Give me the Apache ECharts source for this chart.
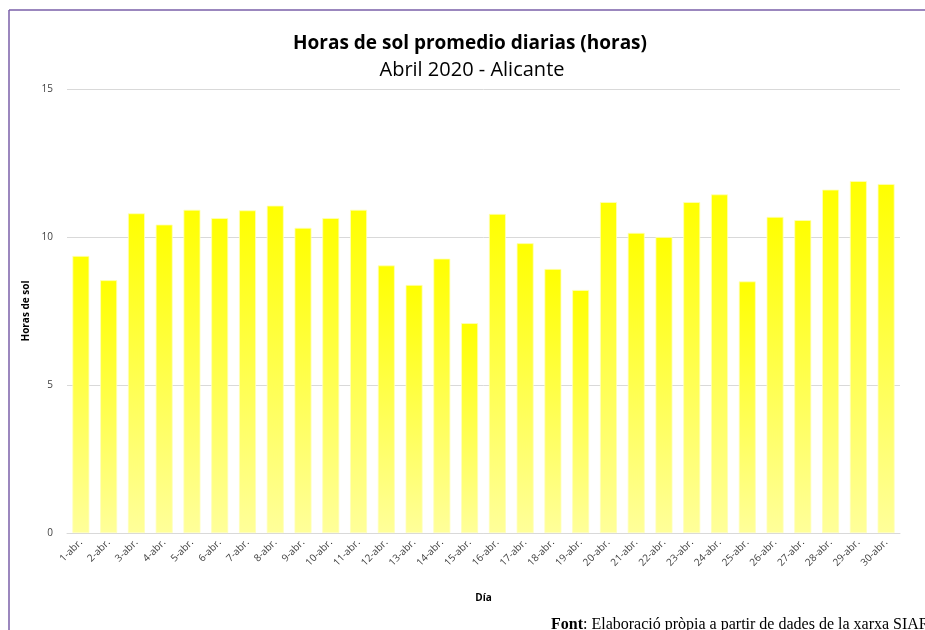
<!DOCTYPE html>
<html>
<head>
<meta charset="utf-8">
<script src="https://cdn.jsdelivr.net/npm/echarts@6/dist/echarts.min.js"></script>
<style>
html,body{margin:0;padding:0;background:#fff;}
#main{width:925px;height:630px;}
</style>
</head>
<body>
<div id="main"></div>
<script>
var dias = [];
for (var d = 1; d <= 30; d++) { dias.push(d + '-abr.'); }
var horasSol = [9.36, 8.54, 10.80, 10.42, 10.92, 10.64, 10.90, 11.06, 10.31, 10.64,
	10.92, 9.04, 8.38, 9.27, 7.09, 10.78, 9.79, 8.92, 8.21, 11.18,
	10.14, 10.00, 11.18, 11.44, 8.50, 10.68, 10.57, 11.60, 11.89, 11.79];
var yTicks = [0, 5, 10, 15];

var myChart = echarts.init(document.getElementById('main'));
var option = {
	backgroundColor : '#fff',
	animation : false,
	title : [ {
		text : 'Horas de sol promedio diarias (horas)',
		left : 465,
		top : 29,
		textAlign : 'center',
		textStyle : {
			fontFamily : 'Open Sans',
			fontSize : 19,
			fontWeight : 'bold',
			color : '#000'
		}
	}, {
		text : 'Abril 2020 - Alicante',
		left : 467,
		top : 55,
		textAlign : 'center',
		textStyle : {
			fontFamily : 'Open Sans',
			fontSize : 20,
			fontWeight : 'normal',
			color : '#000'
		}
	} ],
	grid : {
		left : 67,
		right : 25,
		top : 89,
		bottom : 97
	},
	xAxis : {
		type : 'category',
		data : dias,
		name : 'Día',
		nameLocation : 'middle',
		nameGap : 60,
		nameTextStyle : {
			fontFamily : 'Open Sans',
			fontSize : 10,
			fontWeight : 'bold',
			color : '#000'
		},
		axisLine : { lineStyle : { color : '#d9d9d9' } },
		axisTick : { show : false },
		axisLabel : {
			interval : 0,
			rotate : 45,
			fontFamily : 'Open Sans',
			fontSize : 10,
			color : '#404040',
			margin : 8
		}
	},
	yAxis : {
		type : 'value',
		min : 0,
		max : 15,
		interval : 5,
		name : 'Horas de sol',
		nameLocation : 'middle',
		nameGap : 31,
		nameTextStyle : {
			fontFamily : 'Open Sans',
			fontSize : 10,
			fontWeight : 'bold',
			color : '#000'
		},
		axisLine : { show : false },
		axisTick : { show : false },
		axisLabel : {
			fontFamily : 'Open Sans',
			fontSize : 10,
			color : '#404040',
			margin : 14,
			formatter : function(v) {
				return yTicks.indexOf(v) >= 0 ? v : '';
			}
		},
		splitLine : { lineStyle : { color : '#d9d9d9' } }
	},
	series : [ {
		type : 'bar',
		data : horasSol,
		barCategoryGap : '39%',
		itemStyle : {
			borderColor : '#ffffb8',
			borderWidth : 0.8,
			color : new echarts.graphic.LinearGradient(0, 0, 0, 1, [
				{ offset : 0, color : '#ffff00' },
				{ offset : 1, color : '#ffff9a' }
			])
		}
	} ],
	graphic : [ {
		type : 'line',
		shape : { x1 : 9, y1 : 10, x2 : 925, y2 : 10 },
		style : { stroke : '#7a5fa8', lineWidth : 1.5 }
	}, {
		type : 'line',
		shape : { x1 : 9, y1 : 10, x2 : 9, y2 : 630 },
		style : { stroke : '#7a5fa8', lineWidth : 1.5 }
	}, {
		type : 'text',
		left : 551,
		top : 617,
		style : {
			text : '{b|Font}: Elaboració pròpia a partir de dades de la xarxa SIAR.',
			fontFamily : 'Liberation Serif',
			fontSize : 16,
			fill : '#000',
			rich : {
				b : {
					fontFamily : 'Liberation Serif',
					fontSize : 16,
					fontWeight : 'bold',
					fill : '#000'
				}
			}
		}
	} ]
};
myChart.setOption(option);
</script>
</body>
</html>
